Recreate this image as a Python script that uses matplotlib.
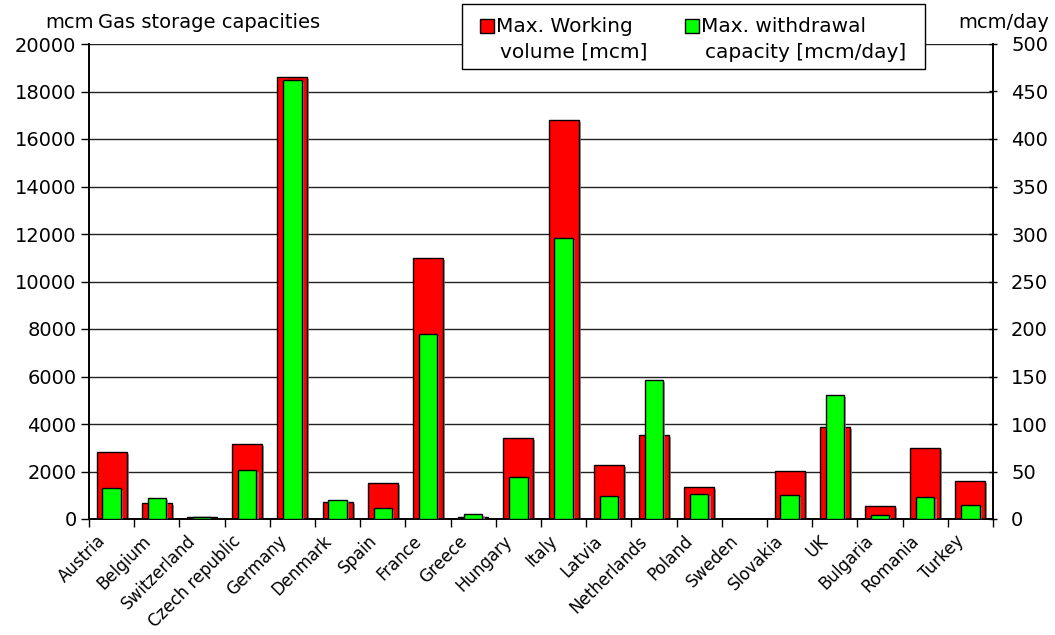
import matplotlib
matplotlib.use("Agg")
import matplotlib.pyplot as plt
import matplotlib.patheffects as pe
import matplotlib.transforms as mtransforms
from matplotlib.patches import Rectangle
import numpy as np

countries = ["Austria", "Belgium", "Switzerland", "Czech republic", "Germany", "Denmark",
             "Spain", "France", "Greece", "Hungary", "Italy", "Latvia", "Netherlands",
             "Poland", "Sweden", "Slovakia", "UK", "Bulgaria", "Romania", "Turkey"]
working_volume = [2820, 660, 70, 3150, 18600, 700, 1500, 11000, 80, 3400, 16800, 2260,
                  3520, 1360, 20, 2030, 3870, 560, 3000, 1600]
withdrawal = [33, 22, 2, 52, 462, 20, 12, 195, 5, 44, 296, 24, 146, 26, 0.5, 25, 131, 4, 23, 15]

left_ticks = list(range(0, 20001, 2000))
right_ticks = list(range(0, 501, 50))
legend_labels = [["Max. Working", "volume [mcm]"], ["Max. withdrawal", "capacity [mcm/day]"]]

RED = "#ff0000"
GREEN = "#00ff00"
W, H = 1055, 635

fig = plt.figure(figsize=(W / 100, H / 100), dpi=100)


def px(x, y):
    return x / W, 1 - y / H


ax = fig.add_axes([89 / W, 1 - 519 / H, (993 - 89) / W, (519 - 44) / H])
ax2 = ax.twinx()

x = np.arange(len(countries))
shadow = [pe.SimplePatchShadow(offset=(1.5, -1.5), shadow_rgbFace="#888888", alpha=0.8), pe.Normal()]

ax.bar(x, working_volume, width=0.66, color=RED, edgecolor="black", linewidth=1.0,
       zorder=3, path_effects=shadow)
ax2.bar(x, withdrawal, width=0.41, color=GREEN, edgecolor="black", linewidth=1.0,
        zorder=3, path_effects=shadow)

ax.set_xlim(-0.5, len(countries) - 0.5)
ax.set_ylim(0, 20000)
ax2.set_ylim(0, 500)
ax.set_yticks(left_ticks)
ax2.set_yticks(right_ticks)
ax.set_yticklabels([str(v) for v in left_ticks], fontsize=14)
ax2.set_yticklabels([str(v) for v in right_ticks], fontsize=14)

ax.set_axisbelow(True)
ax.yaxis.grid(True, color="#222222", linewidth=1.0, zorder=0)
ax.set_xticks(x)
ax.tick_params(axis="x", length=0, pad=6)
ax.set_xticks(np.arange(len(countries) + 1) - 0.5, minor=True)
ax.tick_params(axis="x", which="minor", length=6, width=1, direction="out")
ax.tick_params(axis="y", length=6, width=1, direction="out", pad=3)
ax2.tick_params(axis="y", length=6, width=1, direction="inout", pad=10)

labels = ax.set_xticklabels(countries, rotation=45, ha="right", va="center",
                            rotation_mode="anchor", fontsize=12)
offset = mtransforms.ScaledTranslation(-9 / 100, -11 / 100, fig.dpi_scale_trans)
for lab in labels:
    lab.set_transform(lab.get_transform() + offset)

for a in (ax, ax2):
    a.spines["top"].set_visible(False)
    for s in ("left", "right", "bottom"):
        a.spines[s].set_linewidth(1.2)
        a.spines[s].set_color("black")

fs_head = 14
fig.text(*px(45, 22), "mcm", fontsize=fs_head, va="center", ha="left")
fig.text(*px(98, 22), "Gas storage capacities", fontsize=fs_head, va="center", ha="left")
fig.text(*px(1049, 22), "mcm/day", fontsize=fs_head, va="center", ha="right")

# legend box
lx0, ly0, lx1, ly1 = 462, 4, 925, 69
fig.patches.append(Rectangle(px(lx0, ly1), (lx1 - lx0) / W, (ly1 - ly0) / H,
                             transform=fig.transFigure, facecolor="white",
                             edgecolor="black", linewidth=1.0, zorder=10))
for (sx, tx, col), lines in zip([(480, 496, RED), (685, 701, GREEN)], legend_labels):
    fig.patches.append(Rectangle(px(sx, 33), 14 / W, 14 / H, transform=fig.transFigure,
                                 facecolor=col, edgecolor="black", linewidth=1.0, zorder=11))
    fig.text(*px(tx, 26), lines[0], fontsize=14.5, va="center", ha="left", zorder=12)
    fig.text(*px(tx + 4, 52), lines[1], fontsize=14.5, va="center", ha="left", zorder=12)

fig.savefig("out.png", dpi=100)
